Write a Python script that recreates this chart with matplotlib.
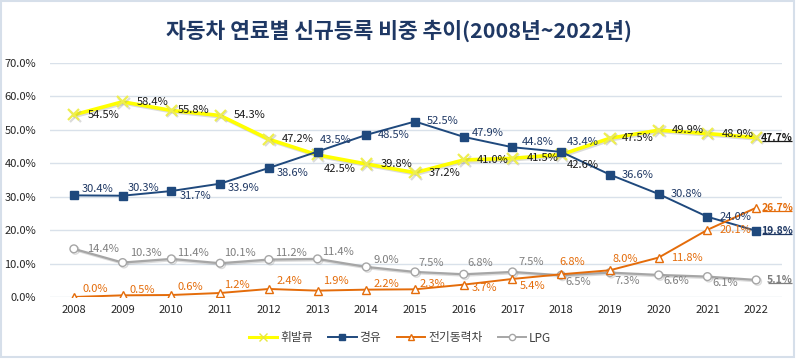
import matplotlib
matplotlib.use("Agg")
import matplotlib.pyplot as plt
from matplotlib.lines import Line2D
import matplotlib.patheffects as pe

plt.rcParams['font.family'] = ['Noto Sans CJK KR', 'DejaVu Sans']

years = ['2008', '2009', '2010', '2011', '2012', '2013', '2014', '2015',
         '2016', '2017', '2018', '2019', '2020', '2021', '2022']
gasoline = [54.5, 58.4, 55.8, 54.3, 47.2, 42.5, 39.8, 37.2, 41.0, 41.5, 42.6, 47.5, 49.9, 48.9, 47.7]
diesel = [30.4, 30.3, 31.7, 33.9, 38.6, 43.5, 48.5, 52.5, 47.9, 44.8, 43.4, 36.6, 30.8, 24.0, 19.8]
electric = [0.0, 0.5, 0.6, 1.2, 2.4, 1.9, 2.2, 2.3, 3.7, 5.4, 6.8, 8.0, 11.8, 20.1, 26.7]
lpg = [14.4, 10.3, 11.4, 10.1, 11.2, 11.4, 9.0, 7.5, 6.8, 7.5, 6.5, 7.3, 6.6, 6.1, 5.1]
series_names = ['휘발류', '경유', '전기동력차', 'LPG']
title = '자동차 연료별 신규등록 비중 추이(2008년~2022년)'
yticks = [0, 10, 20, 30, 40, 50, 60, 70]

# label offsets in pixels (dx, dy)
off_gas = [(14, 0), (14, 0), (6, 0), (14, 0), (13, 0), (6, -14), (14, 0), (14, 0),
           (13, 0), (14, 0), (6, -10), (12, 0), (13, 0), (14, 0), (5, 0)]
off_die = [(8, 6), (5, 8), (8, -5), (8, -4), (8, -5), (2, 12), (12, 0), (12, 0),
           (8, 4), (9, 5), (6, 10), (12, 0), (12, 0), (12, 0), (5, 0)]
off_ele = [(9, 8), (7, 5), (6, 8), (4, 8), (8, 8), (6, 10), (7, 6), (5, 5),
           (8, -3), (7, -7), (-2, 12), (3, 11), (12, 0), (12, 0), (5, 0)]
off_lpg = [(13, 0), (7, 10), (6, 6), (4, 10), (6, 7), (5, 7), (7, 7), (3, 9),
           (4, 11), (6, 10), (4, -7), (5, -8), (5, -6), (5, -6), (11, 0)]

fig = plt.figure(figsize=(7.96, 3.59), dpi=100)
fig.patch.set_facecolor('white')
border = plt.Rectangle((0.001, 0.006), 0.997, 0.992, transform=fig.transFigure,
                       fill=False, edgecolor='#D6DFEA', linewidth=1.5)
fig.add_artist(border)

ax = fig.add_axes([50/796, (359-297)/359, (782-50)/796, (297-63)/359])
x = list(range(len(years)))

shadow = [pe.SimpleLineShadow(offset=(1, -1), shadow_color='#999999', alpha=0.35), pe.Normal()]

ax.plot(x, gasoline, color='#FFFF00', lw=2.6, marker='x', ms=8, mew=1.6,
        mec='#EEEE50', zorder=4, path_effects=shadow)
ax.plot(x, diesel, color='#1F497D', lw=1.4, marker='s', ms=5.2,
        mfc='#1F497D', mec='#1F497D', zorder=4)
ax.plot(x, electric, color='#E46C0A', lw=1.4, marker='^', ms=6.2,
        mfc='white', mec='#E46C0A', mew=1.0, zorder=4)
ax.plot(x, lpg, color='#A6A6A6', lw=1.6, marker='o', ms=5.6,
        mfc='white', mec='#A6A6A6', mew=1.0, zorder=3, path_effects=shadow)

ax.set_xlim(-0.49, 14.53)
ax.set_ylim(0, 70)
ax.set_yticks(yticks)
ax.set_yticklabels([f'{v:.1f}%' for v in yticks], fontsize=8, color='#262626')
ax.set_xticks(x)
ax.set_xticklabels(years, fontsize=8, color='#262626')
ax.tick_params(axis='both', length=0)
ax.tick_params(axis='y', pad=10)
ax.tick_params(axis='x', pad=6)
ax.grid(axis='y', color='#D9E1EA', lw=1.0)
ax.set_axisbelow(True)
for s in ax.spines.values():
    s.set_visible(False)

last_texts = []
def put_labels(vals, offs, color):
    for i, (v, (dx, dy)) in enumerate(zip(vals, offs)):
        last = (i == len(vals) - 1)
        t = ax.annotate(f'{v:.1f}%', (i, v), xytext=(dx, dy), textcoords='offset pixels',
                        ha='left', va='center', fontsize=7.5 if last else 8, color=color,
                        fontweight='bold' if last else 'normal', zorder=6)
        if last:
            last_texts.append((t, color))

put_labels(gasoline, off_gas, '#1A1A1A')
put_labels(diesel, off_die, '#1F3864')
put_labels(electric, off_ele, '#E46C0A')
put_labels(lpg, off_lpg, '#7F7F7F')

fig.text(399/796, 1 - 31/359, title, ha='center', va='center', fontsize=15.5,
         fontweight='bold', color='#1F3864')

handles = [
    Line2D([], [], color='#FFFF00', lw=2.2, marker='x', ms=6, mec='#E8E840'),
    Line2D([], [], color='#1F497D', lw=1.4, marker='s', ms=5, mfc='#1F497D'),
    Line2D([], [], color='#E46C0A', lw=1.4, marker='^', ms=5, mfc='white', mec='#E46C0A'),
    Line2D([], [], color='#A6A6A6', lw=1.4, marker='o', ms=4.5, mfc='white', mec='#A6A6A6'),
]
fig.legend(handles, series_names, loc='center', bbox_to_anchor=(400/796, (359-338)/359),
           ncol=4, frameon=False, fontsize=8.5, handlelength=2.4, handletextpad=0.25,
           columnspacing=1.3, labelcolor='#404040')

fig.canvas.draw()
renderer = fig.canvas.get_renderer()
inv = fig.transFigure.inverted()
for t, c in last_texts:
    bb = t.get_window_extent(renderer)
    (x0, y0), (x1, _) = inv.transform([(bb.x0 + 0.5, bb.y0 + 2), (bb.x1 - 1.5, bb.y0 + 2)])
    fig.add_artist(Line2D([x0, x1], [y0, y0], transform=fig.transFigure, color=c,
                          lw=0.9, solid_capstyle='butt'))

fig.savefig('out.png', dpi=100, facecolor='white')
